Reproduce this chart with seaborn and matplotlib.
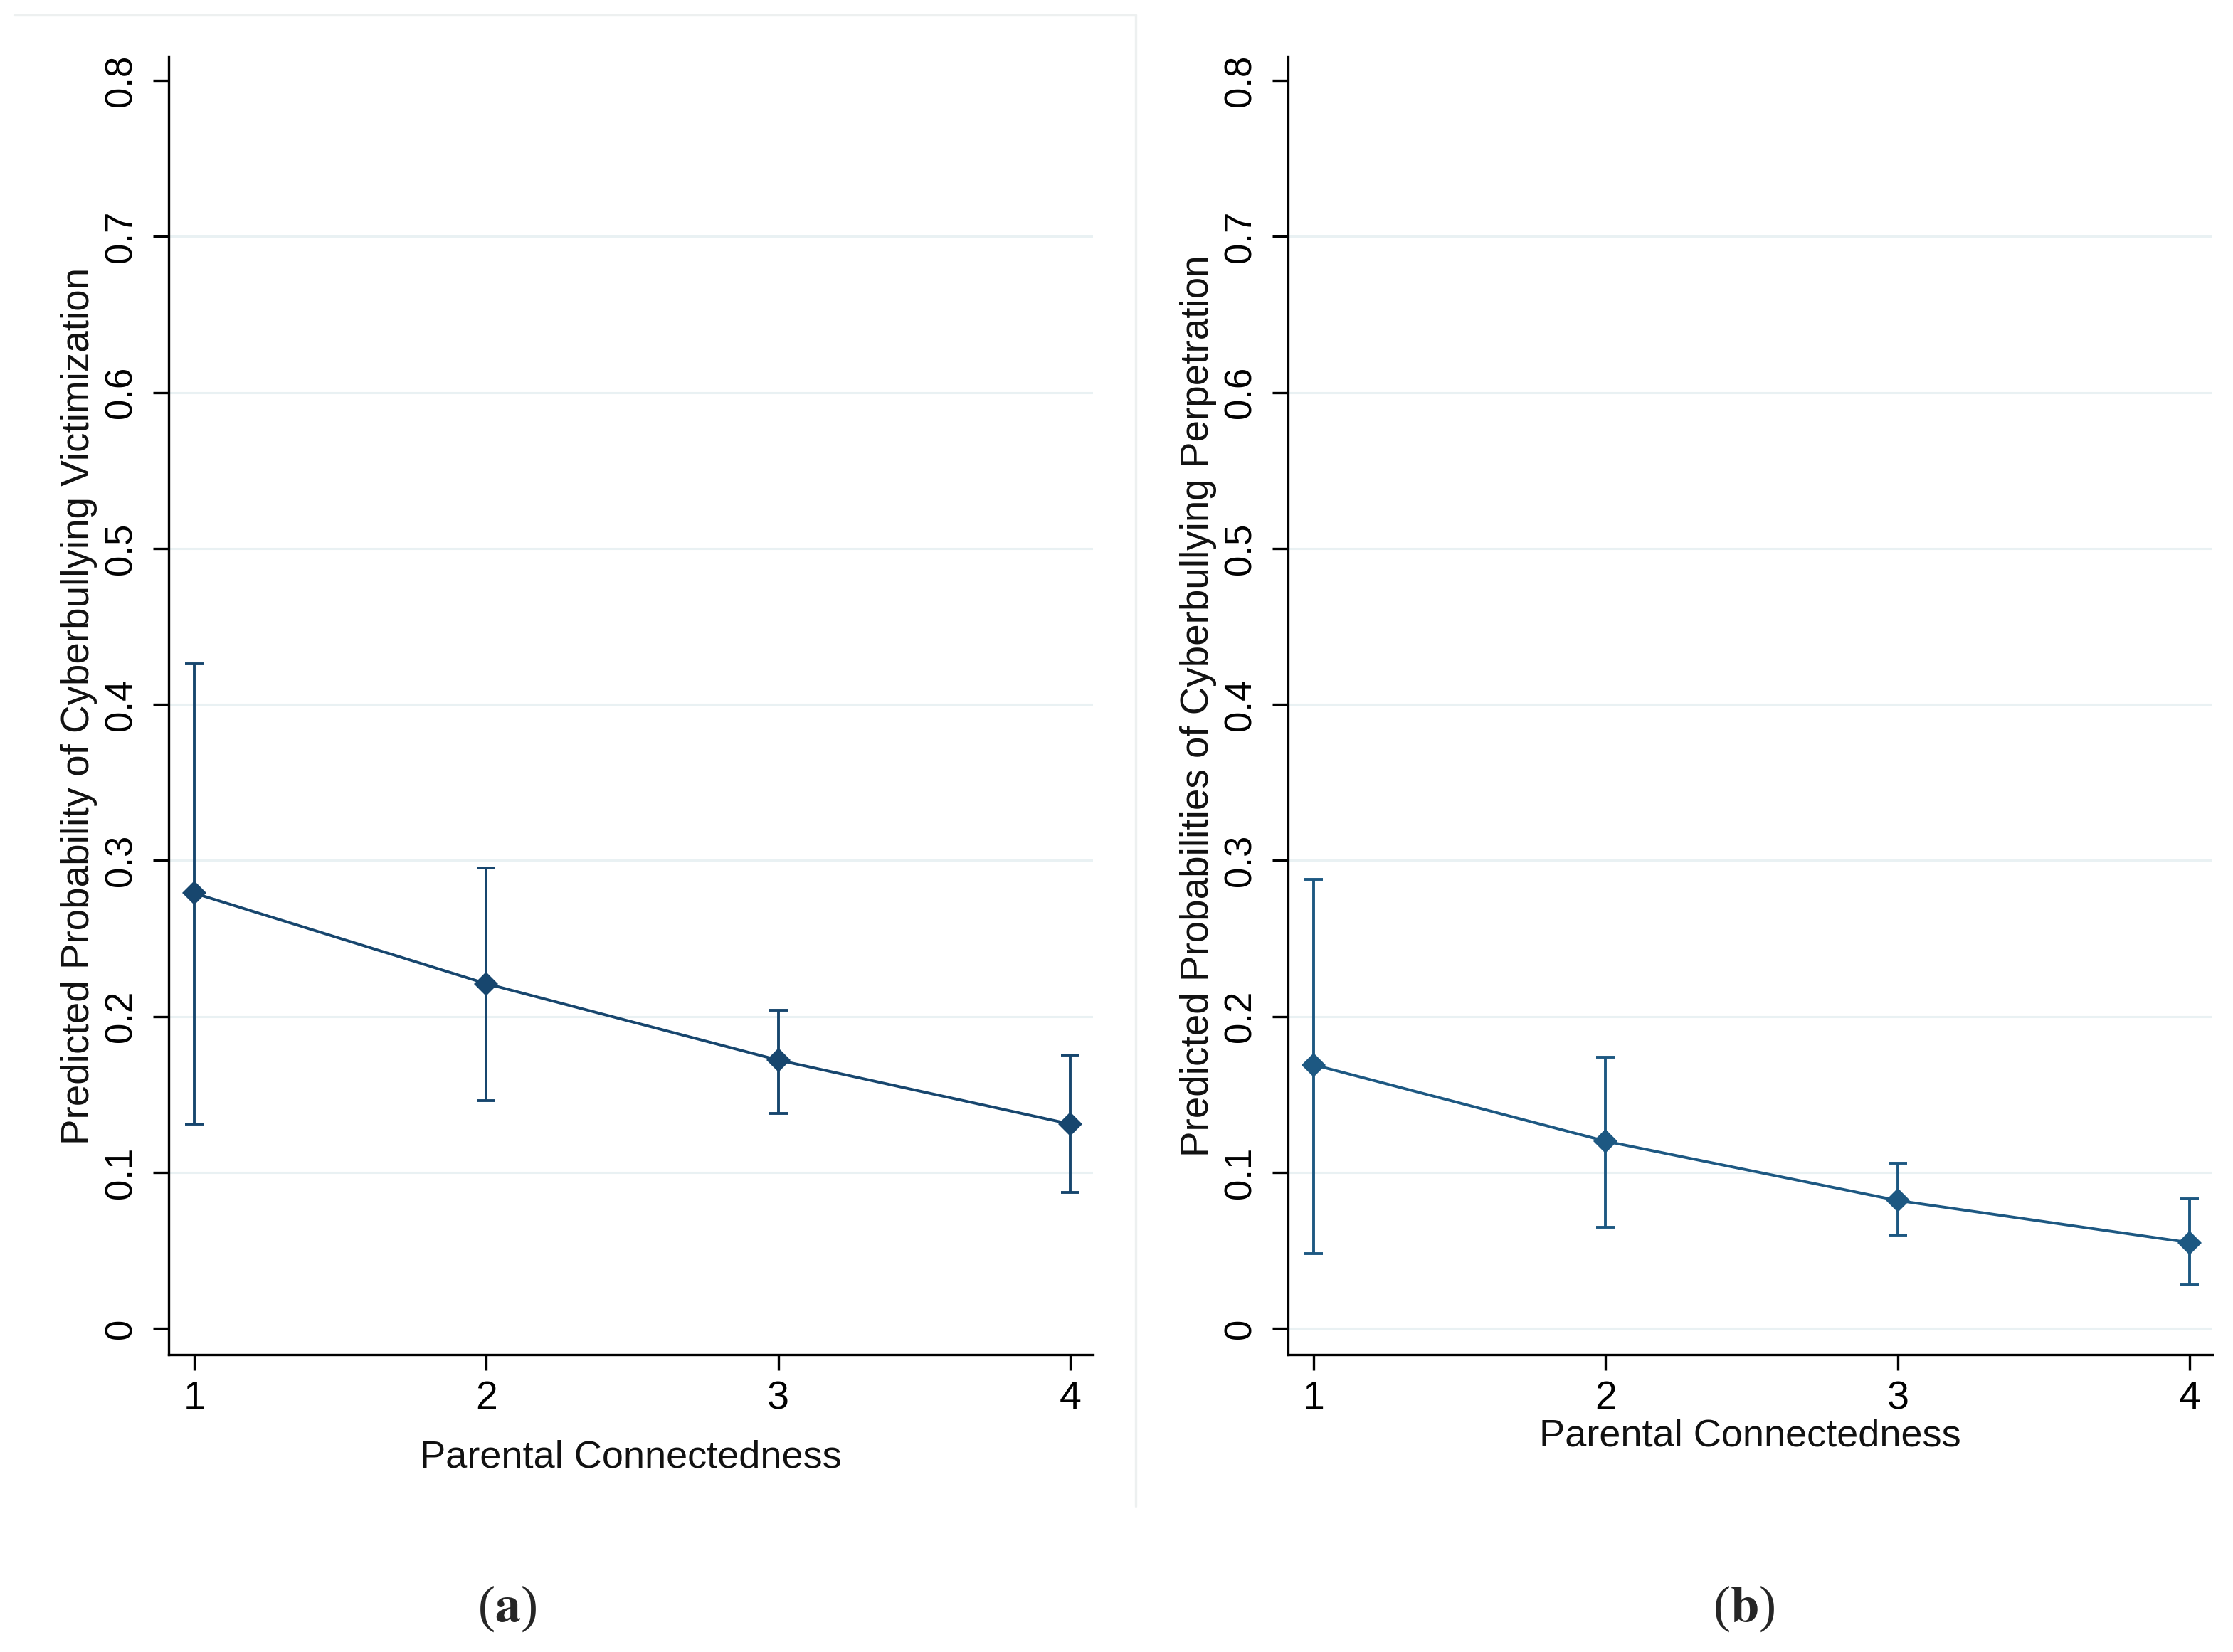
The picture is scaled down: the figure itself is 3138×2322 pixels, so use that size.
import matplotlib
matplotlib.use('Agg')
import matplotlib.pyplot as plt
from matplotlib import font_manager
from matplotlib.lines import Line2D
import seaborn as sns
import pandas as pd

# ---- data ----
connectedness = [1, 2, 3, 4]

victim_pred = [0.279, 0.221, 0.172, 0.131]
victim_lo = [0.131, 0.146, 0.138, 0.087]
victim_hi = [0.426, 0.295, 0.204, 0.175]

perp_pred = [0.169, 0.120, 0.082, 0.055]
perp_lo = [0.048, 0.065, 0.060, 0.028]
perp_hi = [0.288, 0.174, 0.106, 0.083]

y_ticks = [0, 0.1, 0.2, 0.3, 0.4, 0.5, 0.6, 0.7, 0.8]
y_ticklabels = ['0', '0.1', '0.2', '0.3', '0.4', '0.5', '0.6', '0.7', '0.8']

panels = [
    dict(pred=victim_pred, lo=victim_lo, hi=victim_hi,
         ylabel='Predicted Probability of Cyberbullying Victimization',
         caption='a', color='#17466e', grid_from=0.1),
    dict(pred=perp_pred, lo=perp_lo, hi=perp_hi,
         ylabel='Predicted Probabilities of Cyberbullying Perpetration',
         caption='b', color='#1d5882', grid_from=0.0),
]

sns.set_style('ticks')
installed = {f.name for f in font_manager.fontManager.ttflist}
sans = 'Liberation Sans'
narrow = 'Liberation Sans Narrow' if 'Liberation Sans Narrow' in installed else 'Liberation Sans'
plt.rcParams['font.family'] = [sans, 'DejaVu Sans']
plt.rcParams['mathtext.fontset'] = 'stix'

fig = plt.figure(figsize=(15.69, 11.61), dpi=200)
fig.patch.set_facecolor('white')

axes_rects = [[0.0755, 0.18, 0.414, 0.7855], [0.5768, 0.18, 0.414, 0.7855]]
xlabel_y = [-0.079, -0.0625]
caption_x = [0.227, 0.781]

for i, p in enumerate(panels):
    ax = fig.add_axes(axes_rects[i])
    df = pd.DataFrame({'x': connectedness, 'y': p['pred'],
                       'lo': p['lo'], 'hi': p['hi']})

    # light horizontal grid lines
    for gy in y_ticks:
        if p['grid_from'] - 1e-9 <= gy <= 0.7 + 1e-9:
            ax.axhline(gy, color='#e9f1f3', lw=1.1, zorder=0)

    ax.errorbar(df['x'], df['y'],
                yerr=[df['y'] - df['lo'], df['hi'] - df['y']],
                fmt='none', ecolor=p['color'], elinewidth=1.4,
                capsize=4.8, capthick=1.4, zorder=2)
    sns.lineplot(data=df, x='x', y='y', ax=ax, color=p['color'],
                 marker='D', markersize=8.5, markeredgewidth=0,
                 linewidth=1.4, zorder=3)

    ax.set_xlim(0.912, 4.078)
    ax.set_ylim(-0.0168, 0.815)
    ax.set_xticks(connectedness)
    ax.set_xticklabels([str(c) for c in connectedness], fontsize=20, family=narrow)
    ax.set_yticks(y_ticks)
    ax.set_yticklabels(y_ticklabels, fontsize=19, rotation=90, va='center')

    for s in ['top', 'right']:
        ax.spines[s].set_visible(False)
    for s in ['left', 'bottom']:
        ax.spines[s].set_linewidth(1.2)
        ax.spines[s].set_color('black')
    ax.tick_params(axis='both', direction='out', length=8, width=1.2,
                   color='black', labelcolor='black')
    ax.tick_params(axis='y', pad=7)
    ax.tick_params(axis='x', pad=5)

    ax.set_ylabel(p['ylabel'], fontsize=19.7, color='#111111')
    ax.yaxis.set_label_coords(-0.077, 0.5)
    ax.set_xlabel('Parental Connectedness', fontsize=19.5, family=narrow, color='#111111')
    ax.xaxis.set_label_coords(0.5, xlabel_y[i])
    ax.xaxis.label.set_va('center')

    fig.text(caption_x[i], 0.026, '(' + r'$\mathbf{' + p['caption'] + '}$' + ')',
             fontsize=26, family='Liberation Serif', ha='center', va='center')

# faint frame around the left graph region
fig.add_artist(Line2D([20 / 3138, 1596 / 3138], [1 - 21 / 2322, 1 - 21 / 2322],
                      color='#edf0f0', lw=1.2))
fig.add_artist(Line2D([1596 / 3138, 1596 / 3138], [1 - 21 / 2322, 1 - 2117 / 2322],
                      color='#edf0f0', lw=1.2))

fig.savefig('out.png', dpi=200, facecolor='white')
